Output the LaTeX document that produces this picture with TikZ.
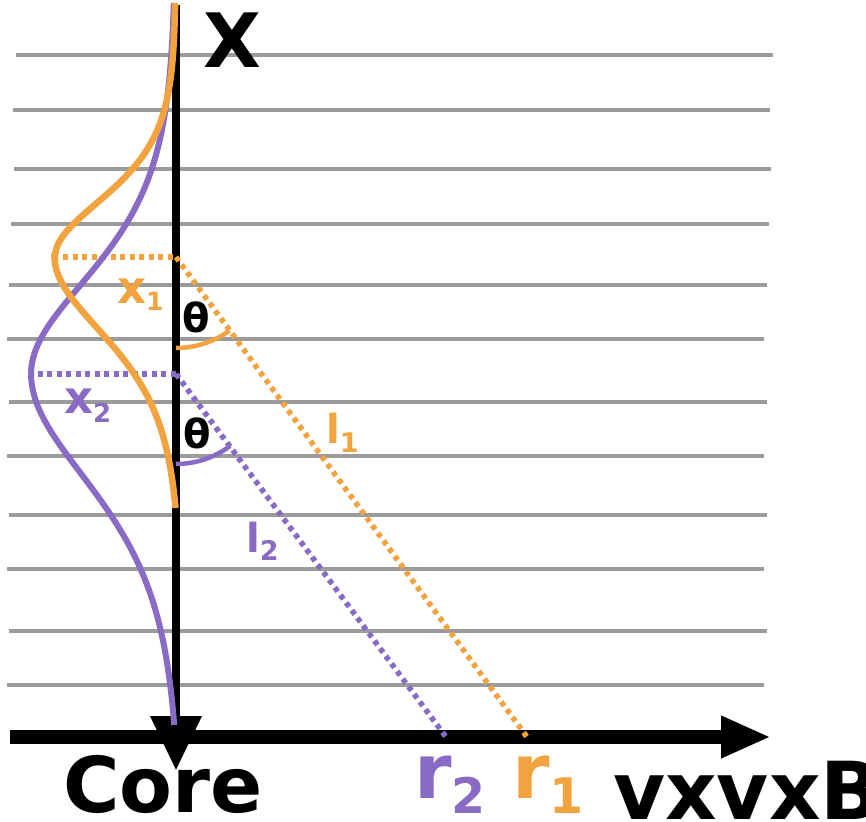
\documentclass[tikz,border=0pt]{standalone}
\usepackage{fontspec}
\setmainfont{DejaVu Sans}
\usetikzlibrary{arrows.meta}
\definecolor{orng}{RGB}{241,163,64}
\definecolor{purp}{RGB}{137,106,196}
\definecolor{gline}{RGB}{155,155,155}
\begin{document}
\begin{tikzpicture}[x=1pt,y=-1pt,
  gridline/.style={gline, line width=3.5pt},
  curveO/.style={orng, line width=6.5pt},
  curveP/.style={purp, line width=6pt},
  dotO/.style={orng, line width=5.5pt, dash pattern=on 5pt off 4.5pt},
  dotP/.style={purp, line width=5.5pt, dash pattern=on 5pt off 4.5pt},
  lbl/.style={inner sep=0pt, anchor=base west, font=\bfseries},
]
\useasboundingbox (0,0) rectangle (866,821);
% grid lines
\foreach \y/\a/\b in {55/16/773, 110/13/770, 169/14/771, 224/11/769, 285/9/767,
  339/7/764, 402/9/767, 456/7/764, 515/9/767, 569/7/764, 631/9/767, 685/7/764}
  \draw[gridline] (\a,\y) -- (\b,\y);
% axes
\coordinate (hL) at (10,737);
\coordinate (hR) at (771,737);
\coordinate (vT) at (176,5);
\coordinate (vB) at (176,770);
\draw[line width=14pt, -{Triangle[length=50pt,width=39pt]}] (hL) -- (hR);
\draw[line width=7.5pt, -{Triangle[length=54pt,width=50pt]}] (vT) -- (vB);
% key points
\coordinate (O1) at (176,257);
\coordinate (O2) at (176,374);
\coordinate (H1) at (63,257);
\coordinate (H2) at (28,374);
\coordinate (R1) at (527,737);
\coordinate (R2) at (446,737);
% dotted lines
\draw[dotO] (H1) -- (O1);
\draw[dotO] (O1) -- (R1);
\draw[dotP] (H2) -- (O2);
\draw[dotP] (O2) -- (R2);
% angle arcs
\draw[orng, line width=4.5pt] (176,348) arc[start angle=90, end angle=54, radius=91];
\draw[purp, line width=4.5pt] (176,464) arc[start angle=90, end angle=53, radius=90];
% profiles
\draw[curveP, variable=\t, samples=70]
  plot[domain=3:374] ({176-145/(cosh((\t-374)/133)^2)}, \t)
  -- plot[domain=374:725] ({176-145/(cosh((\t-374)/150)^2)+3.5*(\t-374)/351}, \t);
\draw[curveO, variable=\t, samples=70]
  plot[domain=3:257] ({176-121/(cosh((\t-257)/80)^2)}, \t)
  -- plot[domain=257:508] ({175.5-121/(cosh((\t-257)/106)^2)+4.2*(\t-257)/251}, \t);
% labels
\node[lbl] (lX) at (203.5,68) {\fontsize{75}{75}\selectfont X};
\node[lbl] (lCore) at (63,812) {\fontsize{77}{77}\selectfont Core};
\node[lbl] (lB) at (613,819) {\fontsize{80}{80}\selectfont vxvxB};
\node[lbl, text=purp] (lr2) at (414,798) {\fontsize{76}{76}\selectfont r\raisebox{-15pt}{\fontsize{49}{49}\selectfont 2}};
\node[lbl, text=orng] (lr1) at (512,798) {\fontsize{76}{76}\selectfont r\raisebox{-15pt}{\fontsize{49}{49}\selectfont 1}};
\node[lbl, text=orng] (lx1) at (117,303) {\fontsize{45}{45}\selectfont x\raisebox{-7pt}{\fontsize{25}{25}\selectfont 1}};
\node[lbl, text=purp] (lx2) at (64,413) {\fontsize{45}{45}\selectfont x\raisebox{-9pt}{\fontsize{26}{26}\selectfont 2}};
\node[lbl, text=orng] (ll1) at (326,443) {\fontsize{40}{40}\selectfont l\raisebox{-9pt}{\fontsize{27}{27}\selectfont 1}};
\node[lbl, text=purp] (ll2) at (246,552) {\fontsize{40}{40}\selectfont l\raisebox{-8pt}{\fontsize{27}{27}\selectfont 2}};
\node[lbl] (th1) at (182,332) {\fontsize{40}{40}\selectfont θ};
\node[lbl] (th2) at (183,448) {\fontsize{40}{40}\selectfont θ};
\end{tikzpicture}
\end{document}
